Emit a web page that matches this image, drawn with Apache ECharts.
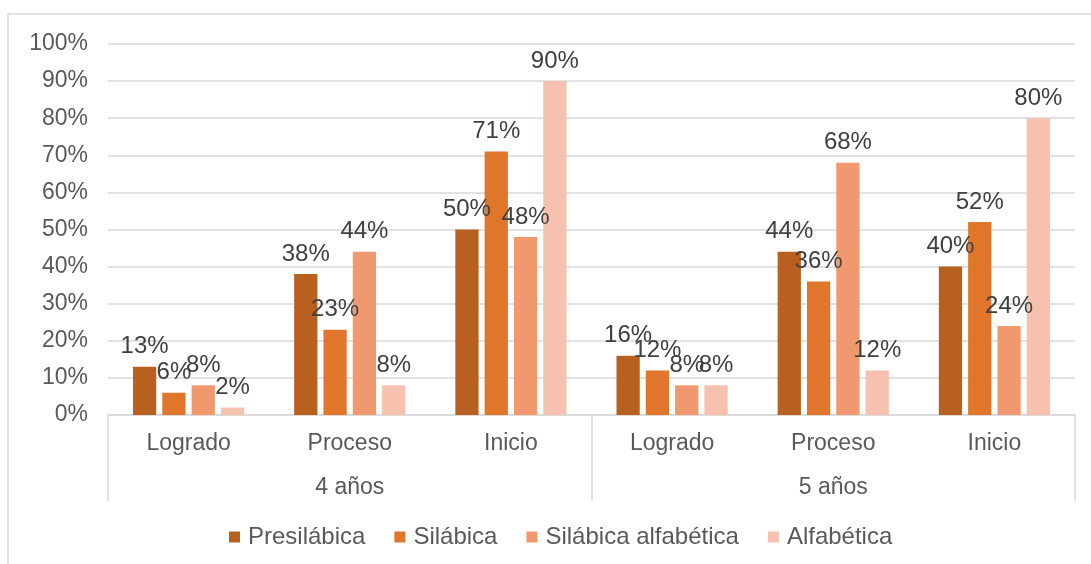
<!DOCTYPE html>
<html>
<head>
<meta charset="utf-8">
<script src="https://cdn.jsdelivr.net/npm/echarts@6/dist/echarts.min.js"></script>
<style>
  html, body { margin: 0; padding: 0; background: #ffffff; }
  #chart { width: 1091px; height: 564px; }
</style>
</head>
<body>
<div id="chart"></div>
<script>
// Writing-level results by age group and stage
const groups = ['4 años', '5 años'];
const stages = ['Logrado', 'Proceso', 'Inicio'];
const categories = ['Logrado', 'Proceso', 'Inicio', 'Logrado', 'Proceso', 'Inicio'];
const seriesNames = ['Presilábica', 'Silábica', 'Silábica alfabética', 'Alfabética'];

const presilabica = [13, 38, 50, 16, 44, 40];
const silabica = [6, 23, 71, 12, 36, 52];
const silabicaAlfabetica = [8, 44, 48, 8, 68, 24];
const alfabetica = [2, 8, 90, 8, 12, 80];

const yTicks = [0, 10, 20, 30, 40, 50, 60, 70, 80, 90, 100];

const colors = ['#B8601F', '#E0762C', '#F0996E', '#F6C1AE'];
const font = '"Liberation Sans", Arial, sans-serif';
const textColor = '#595959';
const fontSize = 23;

const values = [presilabica, silabica, silabicaAlfabetica, alfabetica];

const chart = echarts.init(document.getElementById('chart'), null, { renderer: 'canvas' });

chart.setOption({
  backgroundColor: '#ffffff',
  animation: false,
  color: colors,
  textStyle: { fontFamily: font },
  graphic: [{
    type: 'rect',
    shape: { x: 8, y: 14, width: 1100, height: 600 },
    style: { fill: 'none', stroke: '#d9d9d9', lineWidth: 1.5 },
    silent: true,
    z: -10
  }],
  grid: { left: 108, right: 16, top: 44, bottom: 149, containLabel: false },
  legend: {
    bottom: 10,
    left: 224,
    padding: [5, 5, 5, 5],
    itemWidth: 11,
    itemHeight: 11,
    itemGap: 29,
    icon: 'rect',
    textStyle: { fontFamily: font, fontSize: 24, color: textColor, padding: [0, 0, 0, 3] },
    data: seriesNames
  },
  xAxis: [{
    type: 'category',
    data: categories,
    position: 'bottom',
    axisLine: { show: true, lineStyle: { color: '#d9d9d9', width: 1.5 } },
    axisTick: { show: false },
    axisLabel: { fontFamily: font, fontSize: fontSize, color: textColor, margin: 17, interval: 0 }
  }, {
    type: 'category',
    data: groups,
    position: 'bottom',
    axisLine: { show: false },
    axisTick: { show: true, length: 86, interval: 0, lineStyle: { color: '#d9d9d9', width: 1.5 } },
    axisLabel: { fontFamily: font, fontSize: fontSize, color: textColor, margin: 61, interval: 0 }
  }],
  yAxis: {
    type: 'value',
    min: yTicks[0],
    max: yTicks[yTicks.length - 1],
    interval: yTicks[1] - yTicks[0],
    axisLine: { show: false },
    axisTick: { show: false },
    splitLine: { lineStyle: { color: '#d9d9d9', width: 1.5 } },
    axisLabel: {
      fontFamily: font, fontSize: fontSize, color: textColor, margin: 20,
      formatter: v => v + '%'
    }
  },
  series: seriesNames.map((name, i) => ({
    name: name,
    type: 'bar',
    xAxisIndex: 0,
    data: values[i],
    barGap: '26%',
    barCategoryGap: '31%',
    itemStyle: { color: colors[i] },
    label: {
      show: true,
      position: 'top',
      distance: 8,
      fontFamily: font,
      fontSize: 24,
      color: '#404040',
      formatter: p => p.value + '%'
    }
  }))
});
</script>
</body>
</html>
